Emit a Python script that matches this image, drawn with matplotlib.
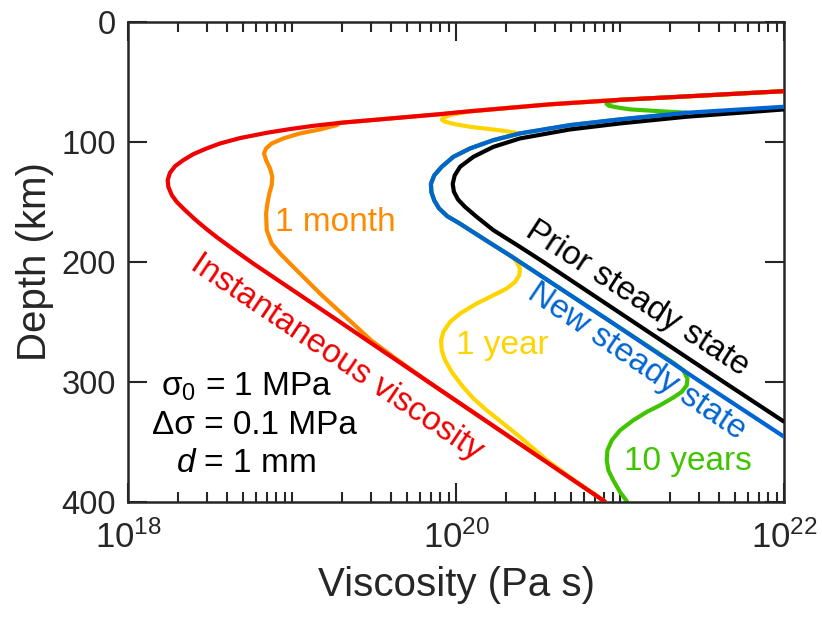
import matplotlib
matplotlib.use("Agg")
import matplotlib.pyplot as plt
from matplotlib.ticker import FixedLocator, NullLocator, NullFormatter

plt.rcParams['font.family'] = ['Liberation Sans', 'DejaVu Sans']
plt.rcParams['mathtext.fontset'] = 'custom'
plt.rcParams['mathtext.rm'] = 'Liberation Sans'
plt.rcParams['mathtext.it'] = 'Liberation Sans:italic'
plt.rcParams['mathtext.sf'] = 'Liberation Sans'

# ---- viscosity profiles: depth (km) and log10 viscosity (Pa s) ----
# instantaneous (transient) viscosity right after the stress change
inst_depth = [57.8, 62.5, 65.0, 67.2, 68.8, 74.6, 77.0, 84.2, 86.7, 89.4, 92.5, 96.9,
              101.4, 105.5, 110.3, 115.3, 120.3, 125.8, 131.9, 137.5, 144.4, 150.0,
              155.5, 163.8, 168.5, 173.6, 180.0, 190.0, 201.4, 250, 300, 350, 400]
inst_log = [22.0, 21.36, 21.0, 20.75, 20.57, 20.08, 19.90, 19.291, 19.128, 18.986, 18.844,
            18.681, 18.559, 18.478, 18.396, 18.335, 18.285, 18.254, 18.240, 18.244, 18.265,
            18.295, 18.335, 18.40, 18.44, 18.485, 18.545, 18.645, 18.762, 19.29, 19.83,
            20.37, 20.91]

# steady state before the perturbation (sigma0)
prior_depth = [73.0, 79.1, 84.7, 89.7, 97.2, 104.2, 112.5, 120.8, 128.0, 135.0, 141.5,
               148.0, 154.2, 162.5, 173.6, 187.5, 200, 250, 300, 333.3]
prior_log = [22.0, 21.405, 20.998, 20.693, 20.388, 20.226, 20.104, 20.023, 19.99, 19.978,
             19.985, 20.01, 20.053, 20.124, 20.226, 20.388, 20.53, 21.08, 21.63, 22.0]

# steady state after the perturbation (sigma0 + delta sigma)
new_depth = [70.8, 75.8, 81.3, 86.1, 93.0, 98.6, 105.5, 112.5, 120.8, 128.0, 135.0,
             142.0, 149.0, 155.5, 162.0, 168.0, 175.0, 182.0, 195.8, 250, 300, 345.8]
new_log = [22.0, 21.405, 20.998, 20.693, 20.388, 20.226, 20.084, 19.982, 19.911, 19.865,
           19.845, 19.848, 19.866, 19.895, 19.945, 20.02, 20.10, 20.18, 20.34, 20.943,
           21.49, 22.0]

# 1 month: departs from the instantaneous curve, rejoins it at depth
month_depth = [86.1, 89.7, 93.0, 97.2, 101.4, 105.5, 109.7, 115.3, 122.2, 129.2, 136.1,
               143.0, 151.4, 159.7, 173.6, 184.7, 193.0, 204.2, 215.3, 226.4, 240.3,
               251.4, 265.3, 280.0]
month_log = [19.271, 19.169, 19.047, 18.945, 18.874, 18.840, 18.827, 18.840, 18.864,
             18.878, 18.874, 18.860, 18.848, 18.840, 18.844, 18.874, 18.925, 19.006,
             19.088, 19.169, 19.28, 19.37, 19.48, 19.625]

# 1 year: shallow kink onto the new steady state, deeper excursion back to the transient curve
year_top_depth = [77.8, 80.0, 81.6, 83.2, 85.0, 87.5, 90.8]
year_top_log = [19.96, 19.92, 19.912, 19.93, 19.98, 20.084, 20.287]
year_mid_depth = [195.8, 200.0, 205.5, 211.1, 216.7, 222.2, 227.8, 234.7, 243.0, 250.0,
                  258.3, 265.3, 273.6, 281.9, 291.7, 302.8, 313.8, 323.6, 334.7, 345.8,
                  355.5, 365.0, 380.0]
year_mid_log = [20.34, 20.368, 20.388, 20.384, 20.358, 20.307, 20.226, 20.124, 20.023,
                19.962, 19.921, 19.907, 19.911, 19.931, 19.972, 20.033, 20.104, 20.185,
                20.287, 20.388, 20.47, 20.55, 20.70]

# 10 years
dec_top_depth = [66.8, 68.3, 70.0, 71.8, 73.0, 74.7]
dec_top_log = [20.93, 20.915, 20.93, 21.0, 21.06, 21.26]
dec_bot_depth = [284.7, 290.3, 297.2, 302.8, 308.3, 313.0, 319.4, 325.0, 331.9, 340.3,
                 348.6, 356.9, 365.3, 373.6, 381.9, 391.7, 400]
dec_bot_log = [21.33, 21.384, 21.409, 21.405, 21.374, 21.323, 21.242, 21.161, 21.079,
               20.998, 20.948, 20.921, 20.917, 20.927, 20.957, 20.998, 21.043]

x_major = [1e18, 1e20, 1e22]
x_major_labels = [r'$\mathregular{10^{18}}$', r'$\mathregular{10^{20}}$', r'$\mathregular{10^{22}}$']
y_ticks = [0, 100, 200, 300, 400]

C_RED = '#f00000'
C_ORANGE = '#ff8a00'
C_YELLOW = '#ffd400'
C_GREEN = '#40c400'
C_BLUE = '#0064d2'
C_BLACK = '#000000'
C_AXIS = '#262626'


def part(depth, logv, dmin, dmax):
    """Points of a profile within a depth range."""
    sel = [(d, v) for d, v in zip(depth, logv) if dmin <= d <= dmax]
    return [s[0] for s in sel], [s[1] for s in sel]


def join(*pieces):
    d, v = [], []
    for pd, pv in pieces:
        d += list(pd)
        v += list(pv)
    return d, [10.0 ** x for x in v]


month = join(part(inst_depth, inst_log, 0, 84.2), (month_depth, month_log),
             part(inst_depth, inst_log, 300, 400))
year = join(part(inst_depth, inst_log, 0, 74.6), (year_top_depth, year_top_log),
            part(new_depth, new_log, 93.0, 182.0), (year_mid_depth, year_mid_log),
            part(inst_depth, inst_log, 400, 400))
decade = join(part(inst_depth, inst_log, 0, 65.0), (dec_top_depth, dec_top_log),
              part(new_depth, new_log, 75.8, 250), (dec_bot_depth, dec_bot_log))
inst = join((inst_depth, inst_log))
prior = join((prior_depth, prior_log))
new = join((new_depth, new_log))

fig = plt.figure(figsize=(8.22, 6.21), dpi=100)
ax = fig.add_axes([0.1561, 0.1916, 0.7981, 0.7734])

lw = 3.0
kw = dict(lw=lw, solid_capstyle='butt', solid_joinstyle='round')
ax.plot(month[1], month[0], color=C_ORANGE, zorder=2, **kw)
ax.plot(year[1], year[0], color=C_YELLOW, zorder=2, **kw)
ax.plot(decade[1], decade[0], color=C_GREEN, zorder=2, **kw)
ax.plot(prior[1], prior[0], color=C_BLACK, zorder=3, **kw)
ax.plot(new[1], new[0], color=C_BLUE, zorder=4, **kw)
ax.plot(inst[1], inst[0], color=C_RED, zorder=5, **kw)

ax.set_xscale('log')
ax.set_xlim(1e18, 1e22)
ax.set_ylim(400, 0)

ax.xaxis.set_major_locator(FixedLocator(x_major))
ax.set_xticklabels(x_major_labels)
minors = [k * 10.0 ** e for e in range(18, 22) for k in range(1, 10)
          if not (k == 1 and e % 2 == 0)]
ax.xaxis.set_minor_locator(FixedLocator(minors))
ax.xaxis.set_minor_formatter(NullFormatter())
ax.set_yticks(y_ticks)
ax.yaxis.set_minor_locator(NullLocator())

for s in ax.spines.values():
    s.set_linewidth(1.8)
    s.set_color(C_AXIS)
ax.tick_params(which='both', direction='in', top=True, right=True, color=C_AXIS,
               width=1.5, labelcolor=C_AXIS, labelsize=23.5)
ax.tick_params(which='major', length=14)
ax.tick_params(which='minor', length=7)
ax.tick_params(axis='y', pad=9)
ax.tick_params(axis='x', pad=13, labelsize=25)

ax.set_xlabel('Viscosity (Pa s)', fontsize=29, color=C_AXIS)
ax.set_ylabel('Depth (km)', fontsize=29, color=C_AXIS)
ax.xaxis.set_label_coords(0.5, -0.173)
ax.xaxis.label.set_va('center')
ax.yaxis.set_label_coords(-0.142, 0.5)
ax.yaxis.label.set_va('center')

# curve labels
fs = 24
ax.text(10 ** 19.26, 167, '1 month', color=C_ORANGE, fontsize=fs, ha='center', va='center')
ax.text(10 ** 20.28, 270, '1 year', color=C_YELLOW, fontsize=fs, ha='center', va='center')
ax.text(10 ** 21.41, 366, '10 years', color=C_GREEN, fontsize=fs, ha='center', va='center')
ax.text(10 ** 19.27, 280, 'Instantaneous viscosity', color=C_RED, fontsize=fs,
        ha='center', va='center', rotation=-34, rotation_mode='anchor')
ax.text(10 ** 21.10, 231, 'Prior steady state', color=C_BLACK, fontsize=fs,
        ha='center', va='center', rotation=-33, rotation_mode='anchor')
ax.text(10 ** 21.10, 283, 'New steady state', color=C_BLUE, fontsize=fs,
        ha='center', va='center', rotation=-34, rotation_mode='anchor')

# model parameters
ax.text(10 ** 18.72, 304, r'$\mathregular{\sigma_0}$ = 1 MPa', color='black', fontsize=fs,
        ha='center', va='center')
ax.text(10 ** 18.77, 336, 'Δσ = 0.1 MPa', color='black', fontsize=fs,
        ha='center', va='center')
ax.text(10 ** 18.72, 368, r'$\mathit{d}$ = 1 mm', color='black', fontsize=fs,
        ha='center', va='center')

fig.savefig('out.png', dpi=100)
